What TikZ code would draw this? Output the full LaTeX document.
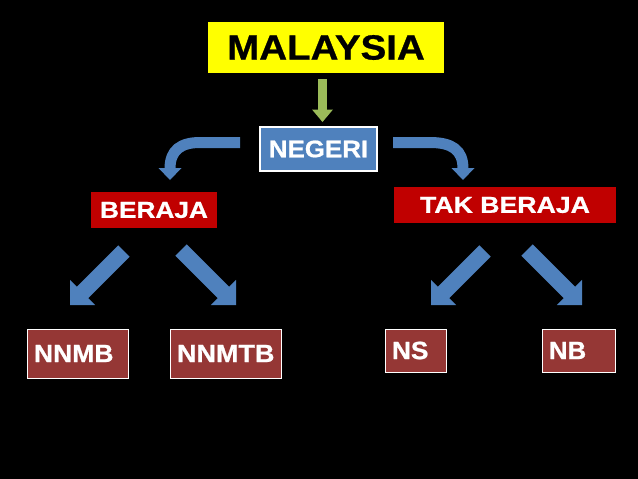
\documentclass[tikz,border=0pt]{standalone}
\usepackage{fontspec}
\setmainfont[BoldFeatures={FakeBold=0.8}]{Liberation Sans}
\usetikzlibrary{calc}
\definecolor{ablue}{HTML}{4F81BD}
\definecolor{dred}{HTML}{C00000}
\definecolor{bred}{HTML}{953735}
\definecolor{agreen}{HTML}{9BBB59}
\definecolor{ayellow}{HTML}{FFFF00}
\newcommand\wx[2]{\scalebox{#1}[1]{#2}}
% block arrow from tail #1 to tip #2
\newcommand\blockarr[2]{%
  \coordinate (hb) at ($(#2)!17.7pt!(#1)$);
  \fill[ablue] ($(#1)!8pt!90:(#2)$) -- ($(hb)!8pt!90:(#2)$) -- ($(hb)!17.7pt!90:(#2)$)
    -- (#2) -- ($(hb)!17.7pt!-90:(#2)$) -- ($(hb)!8pt!-90:(#2)$) -- ($(#1)!8pt!-90:(#2)$) -- cycle;
}
\begin{document}
\begin{tikzpicture}[x=1pt,y=-1pt,
  box/.style={inner sep=0pt, text=white},
  topbox/.style={box, fill=dred, minimum height=36pt, font=\fontsize{23}{27}\selectfont\bfseries},
  leafbox/.style={box, fill=bred, draw=white, line width=1pt, inner xsep=7pt, inner ysep=0pt, align=left, font=\fontsize{25}{30}\selectfont\bfseries}]
\fill[black] (0,0) rectangle (638,479);
\useasboundingbox (0,0) rectangle (638,479);

% nodes
\node[box, fill=ayellow, text=black, minimum width=236pt, minimum height=51pt,
      font=\fontsize{35}{40}\selectfont\bfseries] (mal) at (326,47.5) {\wx{1.1}{MALAYSIA}};
\node[box, fill=ablue, draw=white, line width=1.5pt, minimum width=117pt, minimum height=44pt,
      font=\fontsize{24}{28}\selectfont\bfseries] (neg) at (318.5,149) {\wx{1.08}{NEGERI}};
\node[topbox, minimum width=126pt] (ber) at (154,210) {\wx{1.14}{BERAJA}};
\node[topbox, minimum width=222pt] (tak) at (505,205) {\wx{1.16}{TAK BERAJA}};

\node[leafbox, text width=87pt, minimum height=49pt] (nnmb) at (77.5,353.5) {\wx{1.06}{NNMB}};
\node[leafbox, text width=97pt, minimum height=49pt] (nnmtb) at (225.5,353.5) {\wx{1.08}{NNMTB}};
\node[leafbox, text width=47pt, minimum height=43pt] (ns) at (415.5,350.5) {\wx{1.05}{NS}};
\node[leafbox, text width=59pt, minimum height=43pt] (nb) at (578.5,350.5) {\wx{1.03}{NB}};

% green arrow MALAYSIA -> NEGERI
\coordinate (g1) at (322.5,79);
\coordinate (g2) at (322.5,122);
\fill[agreen] (318,79) rectangle (327,110.5);
\fill[agreen] (312,109.5) -- (333,109.5) -- (g2) -- cycle;

% curved arrows from NEGERI
\coordinate (la) at (240,142.5);
\coordinate (lb) at (170,180);
\draw[ablue, line width=11pt] (la) -- (200,142.5) .. controls (181,142.5) and (170,150) .. (170,168.5);
\fill[ablue] (158.5,168) -- (181.5,168) -- (lb) -- cycle;

\coordinate (ra) at (393,142.5);
\coordinate (rb) at (463,180);
\draw[ablue, line width=11pt] (ra) -- (430,142.5) .. controls (452,142.5) and (463,150) .. (463,168.5);
\fill[ablue] (451.5,168) -- (474.5,168) -- (rb) -- cycle;

% diagonal block arrows
\coordinate (at1) at (124,251); \coordinate (ah1) at (70,305);
\coordinate (at2) at (181,250); \coordinate (ah2) at (236,305);
\coordinate (at3) at (485,251); \coordinate (ah3) at (431,305);
\coordinate (at4) at (527,250); \coordinate (ah4) at (582,305);
\blockarr{at1}{ah1}
\blockarr{at2}{ah2}
\blockarr{at3}{ah3}
\blockarr{at4}{ah4}
\end{tikzpicture}
\end{document}
